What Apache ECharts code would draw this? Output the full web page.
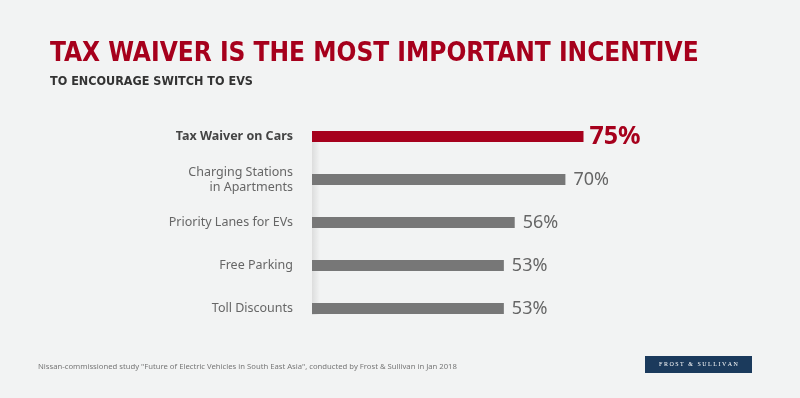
<!DOCTYPE html>
<html>
<head>
<meta charset="utf-8">
<script src="https://cdn.jsdelivr.net/npm/echarts@6/dist/echarts.min.js"></script>
<style>
  html, body { margin: 0; padding: 0; background: #f2f3f3; }
  #main { width: 800px; height: 398px; }
</style>
</head>
<body>
<div id="main"></div>
<script>
  var categories = ['Tax Waiver on Cars', 'Charging Stations\nin Apartments', 'Priority Lanes for EVs', 'Free Parking', 'Toll Discounts'];
  var values = [75, 70, 56, 53, 53];
  var highlightIndex = 0;

  var chart = echarts.init(document.getElementById('main'));

  var seriesData = values.map(function (v, i) {
    if (i === highlightIndex) {
      return {
        value: v,
        itemStyle: { color: '#a6001c' },
        label: { color: '#a6001c', fontSize: 25, fontWeight: 'bold', distance: 6 }
      };
    }
    return v;
  });

  chart.setOption({
    backgroundColor: '#f2f3f3',
    animation: false,
    title: [{
      text: 'TAX WAIVER IS THE MOST IMPORTANT INCENTIVE',
      left: 45,
      top: 36,
      textStyle: { color: '#a6001c', fontSize: 26, fontWeight: 'bold', fontFamily: 'DejaVu Sans Condensed' }
    }, {
      text: 'TO ENCOURAGE SWITCH TO EVS',
      left: 45,
      top: 70,
      textStyle: { color: '#333', fontSize: 12.5, fontWeight: 'bold', fontFamily: 'DejaVu Sans Condensed' }
    }, {
      text: 'Nissan-commissioned study "Future of Electric Vehicles in South East Asia", conducted by Frost & Sullivan in Jan 2018',
      left: 33,
      top: 358,
      textStyle: { color: '#777', fontSize: 7.7, fontWeight: 'normal', fontFamily: 'Noto Sans' }
    }],
    grid: { left: 312, top: 115, width: 362, height: 215 },
    xAxis: {
      type: 'value', min: 0, max: 100, show: false
    },
    yAxis: {
      type: 'category',
      data: categories,
      inverse: true,
      axisLine: { show: false },
      axisTick: { show: false },
      axisLabel: {
        margin: 19,
        color: '#666',
        fontSize: 12.5,
        fontFamily: 'Noto Sans',
        lineHeight: 15,
        formatter: function (v, i) {
          return i === highlightIndex ? '{b|' + v + '}' : v;
        },
        rich: { b: { color: '#444', fontWeight: 'bold', fontSize: 12.5, fontFamily: 'Noto Sans' } }
      }
    },
    graphic: [{
      type: 'rect',
      z: 0,
      shape: { x: 312, y: 131, width: 8, height: 184 },
      style: {
        fill: new echarts.graphic.LinearGradient(0, 0, 1, 0, [
          { offset: 0, color: 'rgba(0,0,0,0.09)' },
          { offset: 1, color: 'rgba(0,0,0,0)' }
        ])
      }
    }, {
      type: 'group',
      left: 645,
      top: 356,
      children: [{
        type: 'rect',
        shape: { width: 107, height: 17 },
        style: { fill: '#1b3a5c' }
      }, {
        type: 'text',
        x: 53.5, y: 8.5,
        style: {
          text: 'F R O S T   &   S U L L I V A N',
          fill: '#fff', fontSize: 6, fontFamily: 'Liberation Serif',
          align: 'center', verticalAlign: 'middle'
        }
      }]
    }],
    series: [{
      type: 'bar',
      z: 2,
      barWidth: 11,
      data: seriesData,
      itemStyle: { color: '#777777' },
      label: {
        show: true,
        position: 'right',
        distance: 8,
        color: '#666',
        fontSize: 18,
        fontFamily: 'Noto Sans',
        formatter: '{c}%'
      }
    }]
  });
</script>
</body>
</html>
